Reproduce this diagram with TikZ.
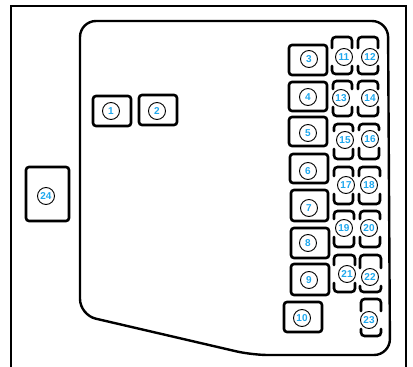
\documentclass[tikz,border=0pt]{standalone}
\usepackage{fontspec}
\setmainfont{Liberation Sans}
\definecolor{numblue}{HTML}{1FA8EE}
\newcommand{\fuse}[7]{%
  \node[fusebox,minimum width={(#3-#1)*1pt},minimum height={(#4-#2)*1pt}] (b#7) at ({(#1+#3)/2},{(#2+#4)/2}) {};
  \node[numdisc] (n#7) at (#5,#6) {#7};}
\newcommand{\tallfuse}[7]{%
  \coordinate (p#7) at (#5,#6);
  \draw[fuseline] (#1,#6-9) -- (#1,#2) -- (#3,#2) -- (#3,#6-9);
  \draw[fuseline] (#1,#6+9) -- (#1,#4) -- (#3,#4) -- (#3,#6+9);
  \node[numdisc] (n#7) at (p#7) {#7};}
\tikzset{
  fuseline/.style={line width=2.6pt,black,line cap=round,rounded corners=3.5pt},
  fusebox/.style={draw=black,line width=2.6pt,rounded corners=3pt,inner sep=0pt,outer sep=0pt},
  numdisc/.style={circle,draw=black,line width=0.9pt,fill=white,minimum size=17pt,inner sep=0pt,
    text=numblue,font=\bfseries\fontsize{10}{10}\selectfont},
  frameline/.style={line width=2pt,black},
  outline/.style={line width=2.4pt,black,line join=round,rounded corners=16pt}
}
\begin{document}
\begin{tikzpicture}[x=1pt,y=-1pt]
\useasboundingbox (0,0) rectangle (413,367);
\clip (0,0) rectangle (413,367);
\fill[white] (0,0) rectangle (413,367);
\draw[frameline] (11,367) -- (11,5.5) -- (406,5.5) -- (406,367);
\draw[outline] (80,120) -- (80,21) -- (388,21) -- (390,355) -- (252,355) -- (80,315) -- cycle;
\fuse{93}{96}{131}{126}{111}{111}{1}
\fuse{139}{95}{177}{125}{157}{111}{2}
\fuse{289}{45}{327}{75}{309}{59}{3}
\fuse{289}{82}{327}{111}{308}{97}{4}
\fuse{289}{117}{327}{146}{308}{133}{5}
\fuse{290}{154}{328}{183}{308}{171}{6}
\fuse{291}{190}{328}{221}{309}{208}{7}
\fuse{291}{228}{329}{258}{308}{243}{8}
\fuse{291}{264}{329}{295}{309}{280}{9}
\fuse{284}{302}{322}{332}{302}{318}{10}
\tallfuse{332}{37}{352}{74}{344}{57}{11}
\tallfuse{358}{37}{378}{74}{370}{57}{12}
\tallfuse{333}{81}{352}{116}{341}{98}{13}
\tallfuse{358}{81}{378}{116}{370}{98}{14}
\tallfuse{334}{124}{353}{159}{345}{140}{15}
\tallfuse{359}{124}{379}{159}{370}{139}{16}
\tallfuse{334}{167}{353}{204}{346}{185}{17}
\tallfuse{359}{167}{380}{204}{369}{185}{18}
\tallfuse{334}{211}{354}{247}{344}{228}{19}
\tallfuse{360}{211}{380}{247}{369}{228}{20}
\tallfuse{334}{255}{355}{292}{347}{274}{21}
\tallfuse{360}{255}{381}{292}{370}{277}{22}
\tallfuse{361}{299}{381}{336}{369}{320}{23}
\fuse{26}{167}{69}{221}{46}{196}{24}
\end{tikzpicture}
\end{document}
